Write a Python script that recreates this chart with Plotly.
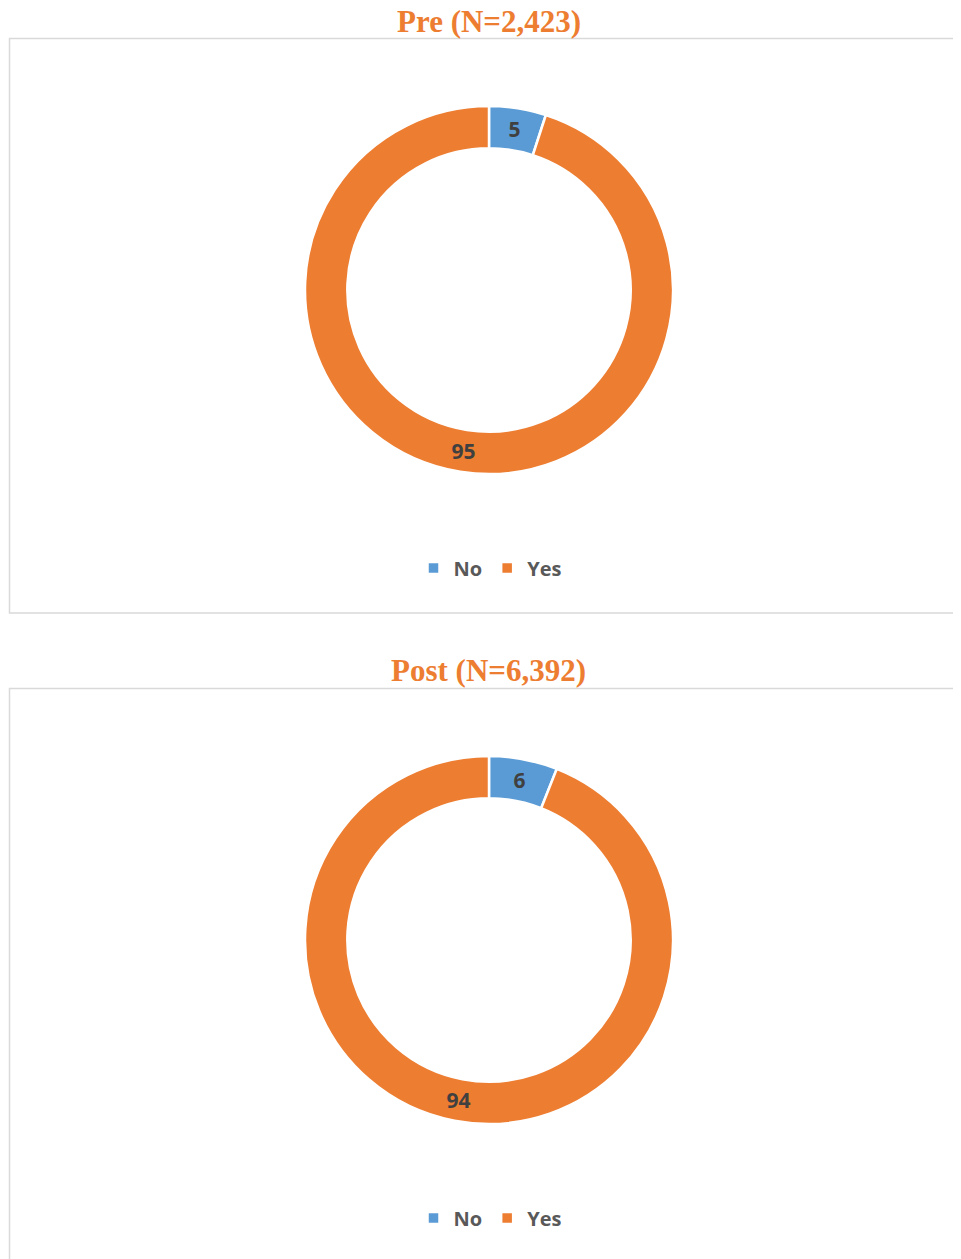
import plotly.graph_objects as go

labels = ["No", "Yes"]
pre_values = [5, 95]
post_values = [6, 94]
titles = ["Pre (N=2,423)", "Post (N=6,392)"]
colors = ["#5B9BD5", "#ED7D31"]

# page has an 8px body margin; figure fills the remaining window
OFF = 8
W, H = 961 - OFF, 1259 - OFF

def px_x(x):
    return (x - OFF) / W

def px_y(y):
    return 1 - (y - OFF) / H

fig = go.Figure()

common = dict(
    labels=labels,
    hole=0.77,
    sort=False,
    direction="clockwise",
    rotation=0,
    marker=dict(colors=colors, line=dict(color="white", width=2.5)),
    textinfo="value",
    textposition="inside",
    insidetextorientation="horizontal",
    textfont=dict(family="Open Sans", size=21, color="#404040", weight="bold"),
    hoverinfo="label+value",
)

fig.add_trace(go.Pie(values=pre_values, name="Pre",
                     domain=dict(x=[px_x(305), px_x(673)], y=[px_y(474), px_y(106)]),
                     legend="legend", legendgroup="pre", **common))
fig.add_trace(go.Pie(values=post_values, name="Post",
                     domain=dict(x=[px_x(305), px_x(673)], y=[px_y(1124), px_y(756)]),
                     legend="legend2", legendgroup="post", **common))

legend_style = dict(
    orientation="h",
    traceorder="normal",
    xanchor="center",
    yanchor="middle",
    x=px_x(490),
    font=dict(family="Open Sans", size=20, color="#595959", weight="bold"),
    bgcolor="rgba(0,0,0,0)",
    itemwidth=30,
)

fig.update_layout(
    width=W,
    height=H,
    margin=dict(l=0, r=0, t=0, b=0),
    paper_bgcolor="white",
    plot_bgcolor="white",
    legend=dict(y=px_y(568), **legend_style),
    legend2=dict(y=px_y(1218), **legend_style),
    shapes=[
        dict(type="rect", xref="paper", yref="paper", x0=px_x(9.5), x1=px_x(975),
             y0=px_y(613), y1=px_y(38.5), line=dict(color="#D9D9D9", width=1.5)),
        dict(type="rect", xref="paper", yref="paper", x0=px_x(9.5), x1=px_x(975),
             y0=px_y(1275), y1=px_y(688.5), line=dict(color="#D9D9D9", width=1.5)),
    ],
    annotations=[
        dict(text=titles[0], x=px_x(489), y=px_y(22), xref="paper", yref="paper",
             xanchor="center", yanchor="middle", showarrow=False,
             font=dict(family="Liberation Serif", size=31, color="#ED7D31", weight="bold")),
        dict(text=titles[1], x=px_x(489), y=px_y(670), xref="paper", yref="paper",
             xanchor="center", yanchor="middle", showarrow=False,
             font=dict(family="Liberation Serif", size=31, color="#ED7D31", weight="bold")),
    ],
)

fig.write_html("out.html")
